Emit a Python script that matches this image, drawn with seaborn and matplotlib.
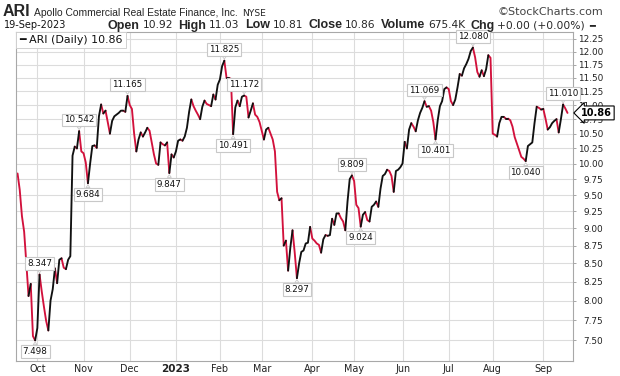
import numpy as np
import pandas as pd
import matplotlib
matplotlib.use("Agg")
import matplotlib.pyplot as plt
import seaborn as sns
from matplotlib.ticker import FixedLocator, NullLocator, FuncFormatter

# ---------------- data ----------------
closes = [
    9.84, 9.58, 9.18, 8.95, 8.50, 8.06, 8.22, 7.55, 7.498, 7.65,
    8.347, 8.12, 7.92, 7.74, 7.62, 8.00, 8.15, 8.43, 8.23, 8.55,
    8.57, 8.44, 8.42, 8.55, 8.60, 10.13, 10.28, 10.25, 10.542, 10.20,
    10.17, 10.02, 9.684, 10.00, 10.29, 10.30, 10.26, 10.80, 11.01, 10.85,
    10.90, 10.70, 10.50, 10.72, 10.80, 10.83, 10.86, 10.90, 10.90, 10.88,
    11.165, 11.00, 10.93, 10.50, 10.20, 10.40, 10.52, 10.45, 10.52, 10.60,
    10.55, 10.35, 10.15, 10.00, 9.98, 10.35, 10.32, 10.30, 10.35, 9.847,
    10.15, 10.10, 10.20, 10.38, 10.40, 10.38, 10.45, 10.60, 10.88, 11.10,
    10.98, 10.90, 10.83, 10.75, 10.97, 11.08, 11.02, 11.00, 10.98, 11.19,
    11.10, 11.37, 11.47, 11.72, 11.825, 11.50, 11.50, 11.48, 10.491, 10.96,
    11.08, 10.98, 11.15, 11.172, 11.15, 10.78, 10.90, 11.03, 10.83, 10.79,
    10.70, 10.55, 10.40, 10.57, 10.60, 10.50, 10.40, 10.20, 9.55, 9.42,
    9.45, 8.75, 8.82, 8.40, 8.72, 8.97, 8.65, 8.297, 8.50, 8.66,
    8.68, 8.78, 8.79, 9.02, 8.85, 8.82, 8.78, 8.76, 8.65, 8.84,
    8.90, 8.89, 8.90, 9.14, 9.05, 9.22, 9.22, 9.15, 9.10, 8.97,
    9.40, 9.75, 9.809, 9.72, 9.35, 9.30, 9.024, 9.20, 9.24, 9.12,
    9.10, 9.32, 9.35, 9.40, 9.32, 9.60, 9.80, 9.83, 9.90, 9.88,
    9.80, 9.55, 9.88, 9.90, 9.94, 10.00, 10.36, 10.25, 10.57, 10.68,
    10.62, 10.54, 10.73, 10.86, 10.95, 11.069, 10.97, 10.98, 10.90, 10.70,
    10.401, 10.73, 10.98, 11.07, 11.29, 11.32, 11.29, 11.07, 11.00, 11.10,
    11.32, 11.57, 11.54, 11.68, 11.76, 11.86, 12.01, 12.08, 11.89, 11.61,
    11.52, 11.64, 11.53, 11.66, 11.93, 11.88, 10.50, 10.48, 10.45, 10.68,
    10.79, 10.79, 10.76, 10.76, 10.73, 10.62, 10.44, 10.33, 10.22, 10.11,
    10.08, 10.04, 10.29, 10.32, 10.35, 10.68, 10.97, 10.95, 10.92, 10.93,
    10.76, 10.57, 10.61, 10.68, 10.72, 10.75, 10.52, 10.75, 11.01, 10.94,
    10.86,
]
holidays = ["2022-11-24", "2022-12-26", "2023-01-02", "2023-01-16", "2023-02-20",
            "2023-04-07", "2023-05-29", "2023-06-19", "2023-07-04", "2023-09-04"]
ann_idx = [8, 10, 28, 32, 50, 69, 94, 98, 103, 127, 152, 156, 185, 190, 207, 231, 248]
ann_side = ["below", "above", "above", "below", "above", "below", "above", "below",
            "above", "below", "above", "below", "above", "below", "above", "below", "above"]
month_labels = ["Oct", "Nov", "Dec", "2023", "Feb", "Mar", "Apr", "May", "Jun", "Jul", "Aug", "Sep"]
y_ticks = [7.50, 7.75, 8.00, 8.25, 8.50, 8.75, 9.00, 9.25, 9.50, 9.75, 10.00, 10.25,
           10.50, 10.75, 11.00, 11.25, 11.50, 11.75, 12.00, 12.25]
last_close = 10.86

# ---------------- calendar ----------------
dates = pd.bdate_range("2022-09-20", "2023-09-19")
dates = dates[~dates.isin(pd.to_datetime(holidays))]
n = min(len(dates), len(closes))
dates = dates[:n]
vals = np.array(closes[:n])

dirs = np.where(np.diff(vals) >= 0, "up", "down")
rows = []
run = 0
for k in range(n - 1):
    if k > 0 and dirs[k] != dirs[k - 1]:
        run += 1
    rows.append((run, k, vals[k], dirs[k]))
    rows.append((run, k + 1, vals[k + 1], dirs[k]))
df = pd.DataFrame(rows, columns=["run", "pos", "close", "dir"]).drop_duplicates()

month_pos = [p for p in range(1, n) if dates[p].month != dates[p - 1].month]

# ---------------- figure ----------------
sns.set_theme(style="white")
plt.rcParams["font.family"] = ["DejaVu Sans"]
W, H = 620, 376
fig = plt.figure(figsize=(W / 100, H / 100), dpi=100)
ax = fig.add_axes([16 / W, 15 / H, 557 / W, 329 / H])

RED = "#d2113c"
sns.lineplot(data=df, x="pos", y="close", hue="dir", units="run", estimator=None,
             palette={"up": "#111111", "down": RED}, lw=1.35, legend=False,
             sort=False, ax=ax, solid_capstyle="round", solid_joinstyle="round")

ax.set_yscale("log")
ax.set_ylim(7.25, 12.39)
ax.set_xlim(-0.7, 252.5)
ax.yaxis.set_major_locator(FixedLocator(y_ticks))
ax.yaxis.set_minor_locator(NullLocator())
ax.yaxis.set_major_formatter(FuncFormatter(lambda v, p: f"{v:.2f}"))
ax.set_xticks(month_pos)
ax.set_xticklabels(month_labels)
ax.set_xlabel("")
ax.set_ylabel("")
ax.grid(True, color="#dcdcdc", lw=0.8)
ax.set_axisbelow(True)
for s in ax.spines.values():
    s.set_color("#a8a8a8")
    s.set_linewidth(0.8)

ax.yaxis.tick_right()
ax.tick_params(axis="y", which="major", right=True, left=False, length=2.2, width=0.6,
               color="#999999", pad=19.3, labelsize=6.4, labelcolor="#222222")
for t in ax.yaxis.get_major_ticks():
    t.label2.set_horizontalalignment("right")
ax.tick_params(axis="x", length=0, pad=2.5, labelsize=6.9, labelcolor="#222222")
for i, lab in enumerate(ax.get_xticklabels()):
    if lab.get_text() == "2023":
        lab.set_fontweight("bold")
        lab.set_fontsize(7.5)

# peak / trough labels
for i, side in zip(ann_idx, ann_side):
    v = vals[i]
    up = side == "above"
    ax.annotate(f"{v:.3f}", xy=(i, v), xytext=(0, 4.8 if up else -4.8),
                textcoords="offset points", ha="center",
                va="bottom" if up else "top", fontsize=6.3, color="#111111",
                bbox=dict(boxstyle="square,pad=0.22", fc="white", ec="#c8c8c8", lw=0.8),
                arrowprops=dict(arrowstyle="wedge,tail_width=0.45,shrink_factor=0.5",
                                fc="white", ec="#c8c8c8", lw=0.6, shrinkA=0, shrinkB=1.2),
                zorder=5)

# legend box
ax.text(3 / 557, 1 - 8 / 329, "━ ARI (Daily) 10.86", transform=ax.transAxes,
        ha="left", va="center", fontsize=7.9, color="#111111",
        bbox=dict(boxstyle="square,pad=0.3", fc="white", ec="#d0d0d0", lw=0.7), zorder=6)

# current price marker
ax.annotate(f"{last_close:.2f}", xy=(1, last_close), xycoords=("axes fraction", "data"),
            xytext=(6, 0), textcoords="offset points", ha="left", va="center",
            fontsize=7, fontweight="bold", color="black", annotation_clip=False,
            bbox=dict(boxstyle="larrow,pad=0.2", fc="white", ec="black", lw=0.8), zorder=7)

# ---------------- header ----------------
renderer = fig.canvas.get_renderer()


def put_runs(x_px, base_px, pieces):
    x = x_px
    for txt, kw, gap in pieces:
        t = fig.text(x / W, 1 - base_px / H, txt, va="baseline", ha="left", **kw)
        bb = t.get_window_extent(renderer)
        x += bb.width + gap
    return x


put_runs(3, 16, [
    ("ARI", dict(fontsize=11.5, fontweight="bold", family="Liberation Sans"), 3),
    ("Apollo Commercial Real Estate Finance, Inc.", dict(fontsize=7.4, family="Liberation Sans"), 5),
    ("NYSE", dict(fontsize=6.6, family="DejaVu Sans"), 0),
])
fig.text(603 / W, 1 - 15 / H, "©StockCharts.com", ha="right", va="baseline",
         fontsize=8, color="#444444", family="DejaVu Sans")
fig.text(4 / W, 1 - 28.5 / H, "19-Sep-2023", ha="left", va="baseline", fontsize=7,
         family="DejaVu Sans", color="#111111")

kb = dict(fontsize=9, fontweight="bold", family="Liberation Sans")
kv = dict(fontsize=7.7, family="DejaVu Sans")
put_runs(108, 28.5, [
    ("Open", kb, 3), ("10.92", kv, 5),
    ("High", kb, 3), ("11.03", kv, 5),
    ("Low", kb, 3), ("10.81", kv, 5),
    ("Close", kb, 3), ("10.86", kv, 5),
    ("Volume", kb, 3), ("675.4K", kv, 5),
    ("Chg", kb, 3), ("+0.00 (+0.00%)", kv, 4),
    ("━", dict(fontsize=7, family="DejaVu Sans"), 0),
])

fig.savefig("out.png", dpi=100)
